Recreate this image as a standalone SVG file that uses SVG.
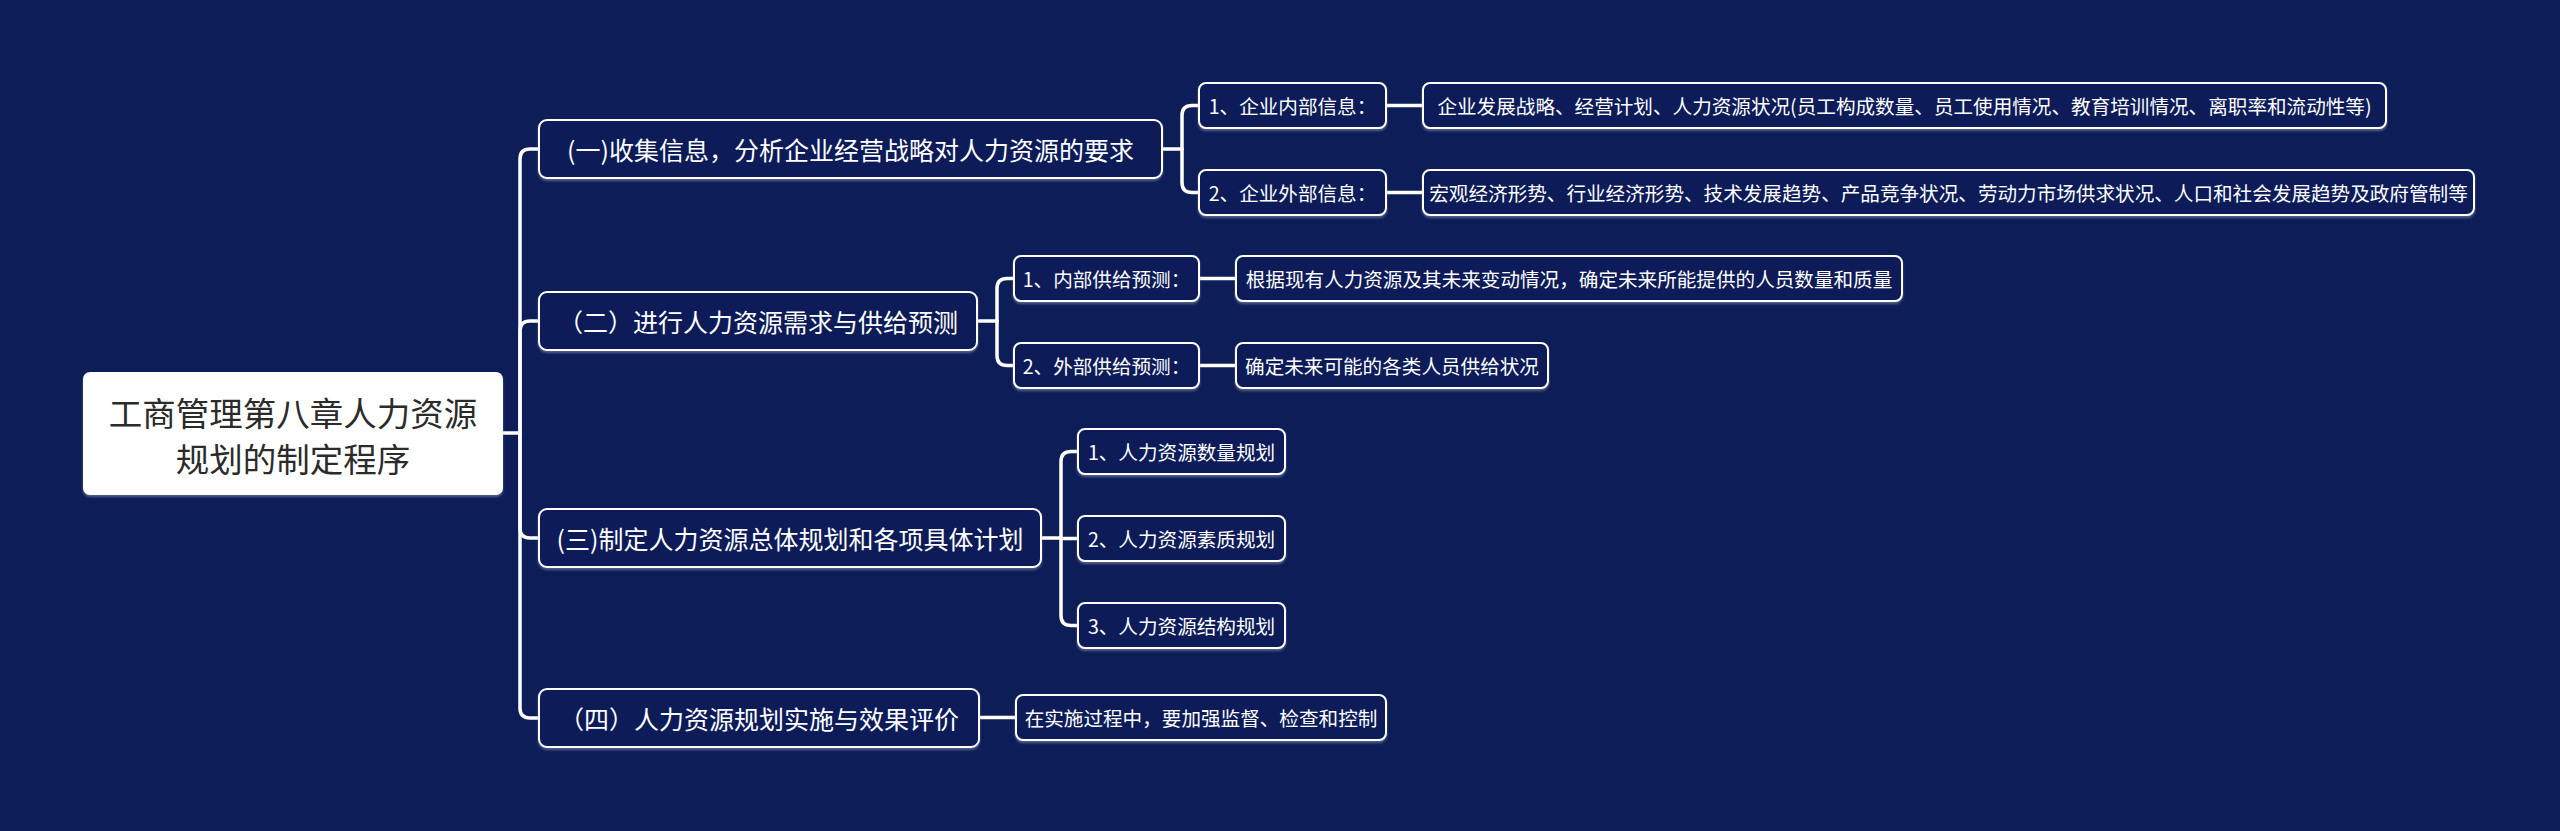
<svg xmlns="http://www.w3.org/2000/svg" width="2560" height="831" viewBox="0 0 2560 831">
<defs>
<style>
.bg{fill:#0d1d58}
.box{fill:#0d1d58;stroke:#ffffff;stroke-width:2}
.root{fill:#ffffff}
.t{font-family:"Noto Sans CJK SC","Noto Sans",sans-serif;fill:#ffffff;text-anchor:middle;dominant-baseline:central}
.t0{font-size:33.5px;fill:#2b2b2b}
.t1{font-size:25px}
.t2{font-size:19.6px}
.c{fill:none;stroke:#ffffff;stroke-width:3.5;stroke-linecap:round;stroke-linejoin:round}
</style>
<filter id="sh" x="-5%" y="-10%" width="110%" height="130%">
<feDropShadow dx="0" dy="2" stdDeviation="1.2" flood-color="#8c94b4" flood-opacity="0.55"/>
</filter>
</defs>
<rect class="bg" x="0" y="0" width="2560" height="831"/>

<g id="connectors">
<path class="c" d="M503,433 H520"/>
<path class="c" d="M520,433 V159 Q520,149 530,149 H539"/>
<path class="c" d="M520,433 V331 Q520,321 530,321 H539"/>
<path class="c" d="M520,433 V528 Q520,538 530,538 H539"/>
<path class="c" d="M520,433 V708 Q520,718 530,718 H539"/>

<path class="c" d="M1162,149 H1182"/>
<path class="c" d="M1182,149 V115.5 Q1182,105.5 1192,105.5 H1199"/>
<path class="c" d="M1182,149 V182.5 Q1182,192.5 1192,192.5 H1199"/>
<path class="c" d="M1386,105.5 H1423"/>
<path class="c" d="M1386,192.5 H1423"/>

<path class="c" d="M977,321 H997"/>
<path class="c" d="M997,321 V288.5 Q997,278.5 1007,278.5 H1014"/>
<path class="c" d="M997,321 V355.5 Q997,365.5 1007,365.5 H1014"/>
<path class="c" d="M1199,278.5 H1236"/>
<path class="c" d="M1199,365.5 H1236"/>

<path class="c" d="M1041,538 H1061"/>
<path class="c" d="M1061,538 V461.5 Q1061,451.5 1071,451.5 H1078"/>
<path class="c" d="M1061,538.5 H1078"/>
<path class="c" d="M1061,538 V615.5 Q1061,625.5 1071,625.5 H1078"/>

<path class="c" d="M979,717.5 H1016"/>
</g>

<g id="root">
<rect class="root" x="83" y="372" width="420" height="123" rx="7" filter="url(#sh)"/>
<text class="t t0" x="293" y="411">工商管理第八章人力资源</text>
<text class="t t0" x="293" y="457">规划的制定程序</text>
</g>

<g id="n1">
<rect class="box" x="539" y="120" width="623" height="58" rx="8" filter="url(#sh)"/>
<text class="t t1" x="850.5" y="149">(一)收集信息，分析企业经营战略对人力资源的要求</text>
</g>
<g id="n1a">
<rect class="box" x="1199" y="83" width="187" height="45" rx="7" filter="url(#sh)"/>
<text class="t t2" x="1292.5" y="105.5">1、企业内部信息：</text>
</g>
<g id="n1a1">
<rect class="box" x="1423" y="83" width="963" height="45" rx="7" filter="url(#sh)"/>
<text class="t t2" x="1904.5" y="105.5">企业发展战略、经营计划、人力资源状况(员工构成数量、员工使用情况、教育培训情况、离职率和流动性等)</text>
</g>
<g id="n1b">
<rect class="box" x="1199" y="170" width="187" height="45" rx="7" filter="url(#sh)"/>
<text class="t t2" x="1292.5" y="192.5">2、企业外部信息：</text>
</g>
<g id="n1b1">
<rect class="box" x="1423" y="170" width="1051" height="45" rx="7" filter="url(#sh)"/>
<text class="t t2" x="1948.5" y="192.5">宏观经济形势、行业经济形势、技术发展趋势、产品竞争状况、劳动力市场供求状况、人口和社会发展趋势及政府管制等</text>
</g>

<g id="n2">
<rect class="box" x="539" y="292" width="438" height="58" rx="8" filter="url(#sh)"/>
<text class="t t1" x="758" y="321">（二）进行人力资源需求与供给预测</text>
</g>
<g id="n2a">
<rect class="box" x="1014" y="256" width="185" height="45" rx="7" filter="url(#sh)"/>
<text class="t t2" x="1106.5" y="278.5">1、内部供给预测：</text>
</g>
<g id="n2a1">
<rect class="box" x="1236" y="256" width="666" height="45" rx="7" filter="url(#sh)"/>
<text class="t t2" x="1569" y="278.5">根据现有人力资源及其未来变动情况，确定未来所能提供的人员数量和质量</text>
</g>
<g id="n2b">
<rect class="box" x="1014" y="343" width="185" height="45" rx="7" filter="url(#sh)"/>
<text class="t t2" x="1106.5" y="365.5">2、外部供给预测：</text>
</g>
<g id="n2b1">
<rect class="box" x="1236" y="343" width="312" height="45" rx="7" filter="url(#sh)"/>
<text class="t t2" x="1392" y="365.5">确定未来可能的各类人员供给状况</text>
</g>

<g id="n3">
<rect class="box" x="539" y="509" width="502" height="58" rx="8" filter="url(#sh)"/>
<text class="t t1" x="790" y="538">(三)制定人力资源总体规划和各项具体计划</text>
</g>
<g id="n3a">
<rect class="box" x="1078" y="429" width="207" height="45" rx="7" filter="url(#sh)"/>
<text class="t t2" x="1181.5" y="451.5">1、人力资源数量规划</text>
</g>
<g id="n3b">
<rect class="box" x="1078" y="516" width="207" height="45" rx="7" filter="url(#sh)"/>
<text class="t t2" x="1181.5" y="538.5">2、人力资源素质规划</text>
</g>
<g id="n3c">
<rect class="box" x="1078" y="603" width="207" height="45" rx="7" filter="url(#sh)"/>
<text class="t t2" x="1181.5" y="625.5">3、人力资源结构规划</text>
</g>

<g id="n4">
<rect class="box" x="539" y="689" width="440" height="58" rx="8" filter="url(#sh)"/>
<text class="t t1" x="759" y="718">（四）人力资源规划实施与效果评价</text>
</g>
<g id="n4a">
<rect class="box" x="1016" y="695" width="370" height="45" rx="7" filter="url(#sh)"/>
<text class="t t2" x="1201" y="717.5">在实施过程中，要加强监督、检查和控制</text>
</g>
</svg>
